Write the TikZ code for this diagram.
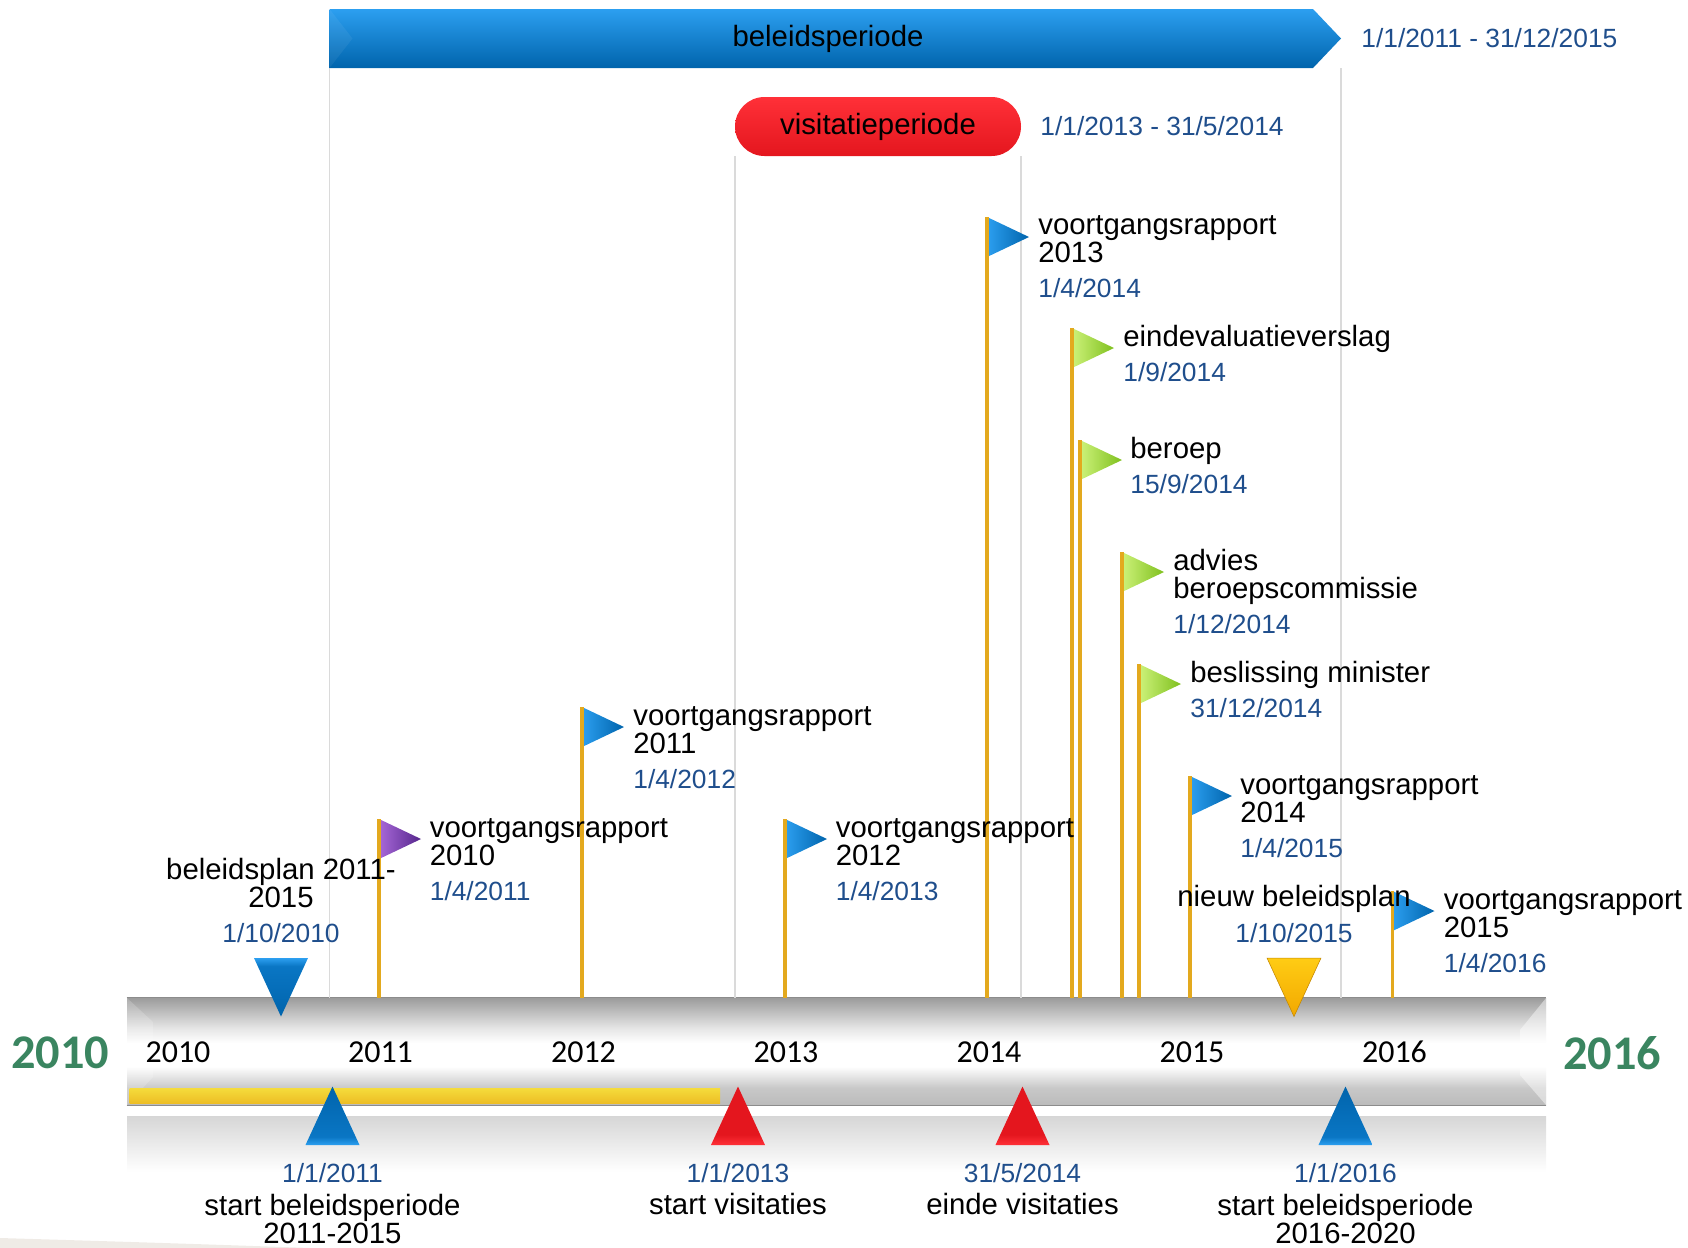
\documentclass[tikz,border=0pt]{standalone}
\usepackage{xcolor}
\usepackage{fontspec}
\setmainfont{Liberation Sans}
\newfontfamily\yearfont{Carlito}
\usetikzlibrary{shapes.geometric, shapes.symbols, shapes.misc}

\definecolor{datablue}{HTML}{1F4E8C}
\definecolor{yeargreen}{HTML}{3A8560}
\definecolor{polegold}{HTML}{E3A91E}
\definecolor{gridgray}{HTML}{DADADA}
\definecolor{barbase}{HTML}{9C9C9C}
\definecolor{barupper}{HTML}{E5E5E5}
\definecolor{barlower}{HTML}{C8C8C8}
\definecolor{barlow}{HTML}{BBBBBB}
\definecolor{lightblue}{HTML}{2C9FF0}
\definecolor{midblue}{HTML}{0A76C4}
\definecolor{darkblue}{HTML}{0064AC}
\definecolor{lightred}{HTML}{FF3038}
\definecolor{darkred}{HTML}{E4161E}
\definecolor{gold}{HTML}{FFCC14}
\definecolor{darkgold}{HTML}{F2A800}
\definecolor{paleyellow}{HTML}{F5DC3C}
\definecolor{deepyellow}{HTML}{EDBE25}
\definecolor{lightviolet}{HTML}{A868D8}
\definecolor{darkviolet}{HTML}{55268C}
\definecolor{lightgreen}{HTML}{CDF27A}
\definecolor{darkgreen}{HTML}{7FC01E}
\definecolor{sandcorner}{HTML}{EFEBE6}

\pgfdeclareverticalshading{barshade}{100bp}{color(0bp)=(barlow); color(25bp)=(barlow); color(33bp)=(barlower); color(43bp)=(white); color(54bp)=(white); color(61bp)=(barupper); color(75bp)=(barbase); color(100bp)=(barbase)}
\pgfdeclareverticalshading{upblue}{100bp}{color(0bp)=(lightblue); color(25bp)=(lightblue); color(32bp)=(midblue); color(75bp)=(darkblue); color(100bp)=(darkblue)}
\pgfdeclareverticalshading{upred}{100bp}{color(0bp)=(lightred); color(25bp)=(lightred); color(34bp)=(darkred); color(75bp)=(darkred); color(100bp)=(darkred)}

\tikzset{
	txt/.style={inner sep=0pt, font=\fontsize{16.7pt}{15.9pt}\selectfont},
	txtleft/.style={txt, anchor=west, align=left},
	txtmid/.style={txt, align=center},
	datum/.style={inner sep=0pt, text=datablue, font=\fontsize{15pt}{16pt}\selectfont},
	datumleft/.style={datum, anchor=west},
	yearlabel/.style={inner sep=0pt, font=\yearfont\fontsize{18.2pt}{20pt}\selectfont},
	bigyear/.style={inner sep=0pt, text=yeargreen, font=\yearfont\bfseries\fontsize{27.5pt}{30pt}\selectfont},
	gridline/.style={gridgray, line width=0.6pt},
	pole/.style={polegold, line width=2.2pt},
	tri/.style={isosceles triangle, isosceles triangle stretches, inner sep=0pt, outer sep=0pt},
	flagtri/.style={tri, minimum height=0.84cm, minimum width=0.8cm, anchor=lower side},
	downtri/.style={tri, shape border rotate=270, minimum height=1.17cm, minimum width=1.08cm, anchor=north},
	uptri/.style={tri, shape border rotate=90, minimum height=1.17cm, minimum width=1.08cm, anchor=apex},
	blueflag/.style={flagtri, left color=lightblue, right color=darkblue},
	greenflag/.style={flagtri, left color=lightgreen, right color=darkgreen},
	violetflag/.style={flagtri, left color=lightviolet, right color=darkviolet}
}

\begin{document}
\begin{tikzpicture}
	\useasboundingbox (0,0) rectangle (33.76,-24.96);
	\fill[sandcorner] (0,-24.76) .. controls (2,-24.82) and (4,-24.88) .. (6.2,-24.96) -- (0,-24.96) -- cycle;

	% bars
	\node[inner sep=0pt, minimum width=28.38cm, minimum height=2.14cm, shading=barshade, xshift=16.73cm, yshift=-21.03cm] (bar){};
	\node[inner sep=0pt, minimum width=28.38cm, minimum height=1.12cm, top color=black!16, middle color=black!5, bottom color=white, xshift=16.73cm, yshift=-22.88cm] (refl){};
	\fill[white, opacity=0.45] (bar.north east) -- (30.4,-20.6) -- (30.4,-21.5) -- (bar.south east) -- cycle;
	\fill[white, opacity=0.18] (bar.north west) -- (3.06,-20.44) -- (3.06,-21.54) -- (bar.south west) -- cycle;
	\draw[black!45, line width=0.8pt] (bar.north west) -- (bar.north east);
	\draw[black!45, line width=0.8pt] (bar.south west) -- (bar.south east);
	\node[inner sep=0pt, minimum width=11.81cm, minimum height=0.3cm, top color=paleyellow, bottom color=deepyellow, xshift=8.495cm, yshift=-21.91cm] (todo){};

	% periods
	\coordinate (v1) at (6.59,-1.36);
	\coordinate (v2) at (14.7,-3.12);
	\coordinate (v3) at (20.42,-3.12);
	\coordinate (v4) at (26.82,-1.36);
	\draw[gridline] (v1) -- (v1 |- bar.north);
	\draw[gridline] (v2) -- (v2 |- bar.north);
	\draw[gridline] (v3) -- (v3 |- bar.north);
	\draw[gridline] (v4) -- (v4 |- bar.north);

	\node[signal, signal to=east, signal from=nowhere, signal pointer angle=93, inner sep=0pt, minimum width=20.23cm, minimum height=1.18cm, top color=lightblue, bottom color=darkblue, xshift=16.425cm, yshift=-0.77cm] (arrow){};
	\fill[white, opacity=0.06] (6.59,-0.18) -- (7.05,-0.77) -- (6.59,-1.36) -- cycle;
	\node[txt, xshift=16.56cm, yshift=-0.77cm] (arrowtxt){beleidsperiode};
	\node[datumleft, xshift=27.22cm, yshift=-0.77cm] (arrowdate){1/1/2011 - 31/12/2015};
	\node[rounded rectangle, txt, minimum width=5.72cm, minimum height=1.18cm, top color=lightred, bottom color=darkred, xshift=17.56cm, yshift=-2.53cm] (pill){visitatieperiode};
	\node[datumleft, xshift=20.8cm, yshift=-2.52cm] (pilldate){1/1/2013 - 31/5/2014};

	% flags
	\node[violetflag, xshift=7.58cm, yshift=-16.78cm] (f1){};
	\node[blueflag, xshift=11.64cm, yshift=-14.54cm] (f2){};
	\node[blueflag, xshift=15.70cm, yshift=-16.78cm] (f3){};
	\node[blueflag, xshift=19.74cm, yshift=-4.74cm] (f4){};
	\node[greenflag, xshift=21.44cm, yshift=-6.96cm] (f5){};
	\node[greenflag, xshift=21.60cm, yshift=-9.2cm] (f6){};
	\node[greenflag, xshift=22.44cm, yshift=-11.44cm] (f7){};
	\node[greenflag, xshift=22.78cm, yshift=-13.68cm] (f8){};
	\node[blueflag, xshift=23.80cm, yshift=-15.92cm] (f9){};
	\node[blueflag, xshift=27.85cm, yshift=-18.22cm] (f10){};

	\draw[pole] (f1.left corner) -- (f1.left corner |- bar.north);
	\draw[pole] (f2.left corner) -- (f2.left corner |- bar.north);
	\draw[pole] (f3.left corner) -- (f3.left corner |- bar.north);
	\draw[pole] (f4.left corner) -- (f4.left corner |- bar.north);
	\draw[pole] (f5.left corner) -- (f5.left corner |- bar.north);
	\draw[pole] (f6.left corner) -- (f6.left corner |- bar.north);
	\draw[pole] (f7.left corner) -- (f7.left corner |- bar.north);
	\draw[pole] (f8.left corner) -- (f8.left corner |- bar.north);
	\draw[pole] (f9.left corner) -- (f9.left corner |- bar.north);
	\draw[pole] (f10.left corner) -- (f10.left corner |- bar.north);

	\node[txtleft, xshift=8.59cm, yshift=-16.84cm] (t1){voortgangsrapport\\2010};
	\node[datumleft, xshift=8.59cm, yshift=-17.82cm] (d1){1/4/2011};
	\node[txtleft, xshift=12.66cm, yshift=-14.6cm] (t2){voortgangsrapport\\2011};
	\node[datumleft, xshift=12.66cm, yshift=-15.58cm] (d2){1/4/2012};
	\node[txtleft, xshift=16.71cm, yshift=-16.84cm] (t3){voortgangsrapport\\2012};
	\node[datumleft, xshift=16.71cm, yshift=-17.82cm] (d3){1/4/2013};
	\node[txtleft, xshift=20.76cm, yshift=-4.78cm] (t4){voortgangsrapport\\2013};
	\node[datumleft, xshift=20.76cm, yshift=-5.76cm] (d4){1/4/2014};
	\node[txtleft, xshift=22.46cm, yshift=-6.77cm] (t5){eindevaluatieverslag};
	\node[datumleft, xshift=22.46cm, yshift=-7.44cm] (d5){1/9/2014};
	\node[txtleft, xshift=22.6cm, yshift=-9.02cm] (t6){beroep};
	\node[datumleft, xshift=22.6cm, yshift=-9.68cm] (d6){15/9/2014};
	\node[txtleft, xshift=23.46cm, yshift=-11.54cm] (t7){advies\\beroepscommissie};
	\node[datumleft, xshift=23.46cm, yshift=-12.48cm] (d7){1/12/2014};
	\node[txtleft, xshift=23.8cm, yshift=-13.5cm] (t8){beslissing minister};
	\node[datumleft, xshift=23.8cm, yshift=-14.16cm] (d8){31/12/2014};
	\node[txtleft, xshift=24.8cm, yshift=-15.98cm] (t9){voortgangsrapport\\2014};
	\node[datumleft, xshift=24.8cm, yshift=-16.96cm] (d9){1/4/2015};
	\node[txtleft, xshift=28.87cm, yshift=-18.28cm] (t10){voortgangsrapport\\2015};
	\node[datumleft, xshift=28.87cm, yshift=-19.26cm] (d10){1/4/2016};

	% markers above the bar
	\node[downtri, shading=upblue, shading angle=180, xshift=5.62cm, yshift=-19.16cm] (m1){};
	\node[downtri, top color=gold, bottom color=darkgold, draw=darkgold!80!black, line width=0.3pt, xshift=25.88cm, yshift=-19.16cm] (m2){};
	\node[txtmid, xshift=5.62cm, yshift=-17.66cm] (m1t){beleidsplan 2011-\\2015};
	\node[datum, xshift=5.62cm, yshift=-18.66cm] (m1d){1/10/2010};
	\node[txtmid, xshift=25.88cm, yshift=-17.98cm] (m2t){nieuw beleidsplan};
	\node[datum, xshift=25.88cm, yshift=-18.66cm] (m2d){1/10/2015};

	% years
	\node[yearlabel, xshift=3.56cm, yshift=-21.04cm] (y0){2010};
	\node[yearlabel, xshift=7.61cm, yshift=-21.04cm] (y1){2011};
	\node[yearlabel, xshift=11.67cm, yshift=-21.04cm] (y2){2012};
	\node[yearlabel, xshift=15.72cm, yshift=-21.04cm] (y3){2013};
	\node[yearlabel, xshift=19.78cm, yshift=-21.04cm] (y4){2014};
	\node[yearlabel, xshift=23.84cm, yshift=-21.04cm] (y5){2015};
	\node[yearlabel, xshift=27.89cm, yshift=-21.04cm] (y6){2016};
	\node[bigyear, xshift=1.2cm, yshift=-21.06cm] (start){2010};
	\node[bigyear, xshift=32.24cm, yshift=-21.06cm] (end){2016};

	% markers below the bar
	\node[uptri, shading=upblue, xshift=6.65cm, yshift=-21.73cm] (b1){};
	\node[uptri, shading=upred, xshift=14.76cm, yshift=-21.73cm] (b2){};
	\node[uptri, shading=upred, xshift=20.45cm, yshift=-21.73cm] (b3){};
	\node[uptri, shading=upblue, xshift=26.91cm, yshift=-21.73cm] (b4){};
	\node[datum, xshift=6.65cm, yshift=-23.47cm] (b1d){1/1/2011};
	\node[datum, xshift=14.76cm, yshift=-23.47cm] (b2d){1/1/2013};
	\node[datum, xshift=20.45cm, yshift=-23.47cm] (b3d){31/5/2014};
	\node[datum, xshift=26.91cm, yshift=-23.47cm] (b4d){1/1/2016};
	\node[txtmid, xshift=6.65cm, yshift=-24.38cm] (b1t){start beleidsperiode\\2011-2015};
	\node[txtmid, xshift=14.76cm, yshift=-24.07cm] (b2t){start visitaties};
	\node[txtmid, xshift=20.45cm, yshift=-24.07cm] (b3t){einde visitaties};
	\node[txtmid, xshift=26.91cm, yshift=-24.38cm] (b4t){start beleidsperiode\\2016-2020};
\end{tikzpicture}
\end{document}
